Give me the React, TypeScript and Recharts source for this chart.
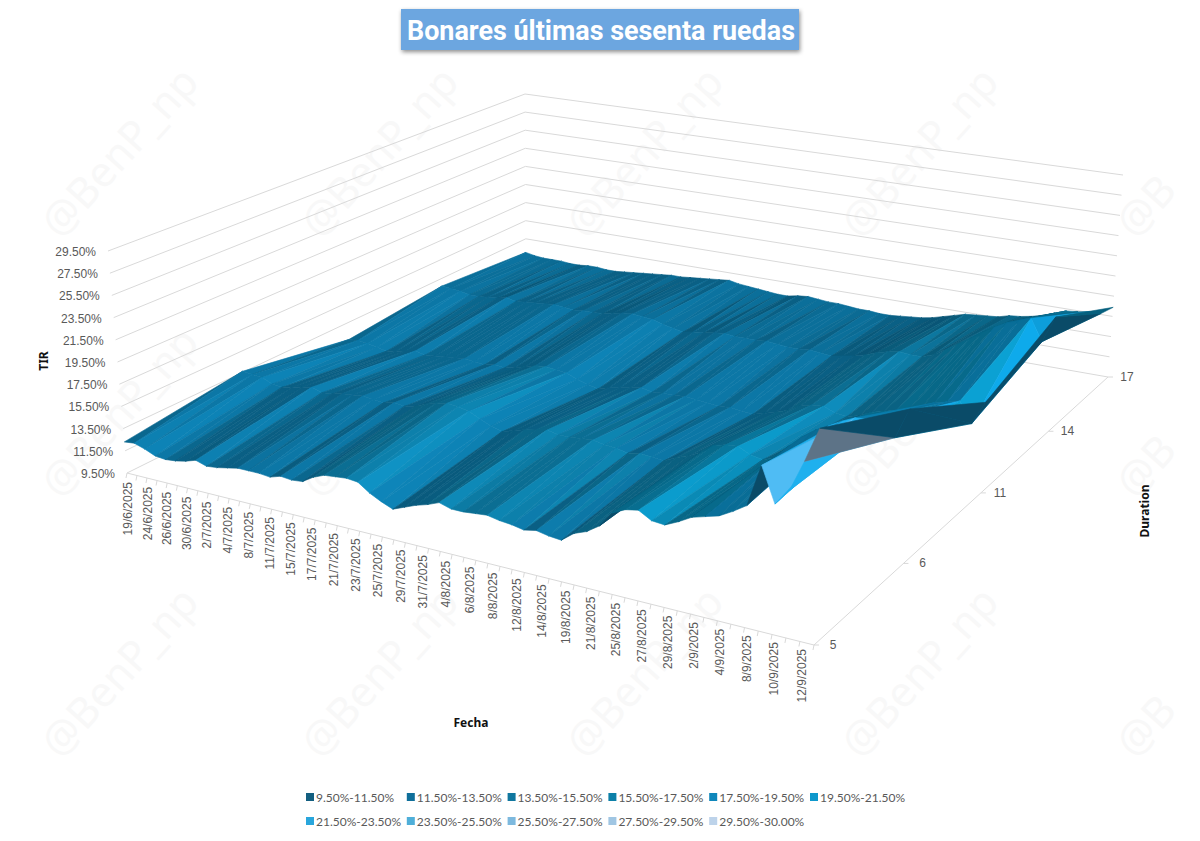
import { ScatterChart, Scatter, XAxis, YAxis } from "recharts";

const dates = ["19/6/2025","23/6/2025","24/6/2025","25/6/2025","26/6/2025","27/6/2025","30/6/2025","1/7/2025","2/7/2025","3/7/2025","4/7/2025","7/7/2025","8/7/2025","10/7/2025","11/7/2025","14/7/2025","15/7/2025","16/7/2025","17/7/2025","18/7/2025","21/7/2025","22/7/2025","23/7/2025","24/7/2025","25/7/2025","28/7/2025","29/7/2025","30/7/2025","31/7/2025","1/8/2025","4/8/2025","5/8/2025","6/8/2025","7/8/2025","8/8/2025","11/8/2025","12/8/2025","13/8/2025","14/8/2025","18/8/2025","19/8/2025","20/8/2025","21/8/2025","22/8/2025","25/8/2025","26/8/2025","27/8/2025","28/8/2025","29/8/2025","1/9/2025","2/9/2025","3/9/2025","4/9/2025","5/9/2025","8/9/2025","9/9/2025","10/9/2025","11/9/2025","12/9/2025"];
const durations = [5, 6, 11, 14, 17];

const tirD5 = [12.3,12.4,12.1,11.7,11.6,11.7,11.9,12.2,11.9,12.0,12.2,12.4,12.4,12.4,12.3,12.6,12.5,12.6,13.2,13.6,13.7,13.8,13.7,13.0,12.5,12.1,12.5,12.9,13.2,13.6,13.3,13.3,13.4,13.5,13.3,13.2,13.0,13.2,13.0,12.9,13.7,14.1,14.8,16.1,16.6,16.8,16.2,16.1,16.6,17.2,17.5,17.8,18.4,19.1,22.5,19.7,21.0,23.5,26.3];
const tirD6 = [13.6,13.5,13.4,13.0,12.9,13.1,13.3,13.5,13.2,13.3,13.5,13.6,13.7,13.6,13.5,13.7,13.6,13.8,14.2,14.5,14.7,14.6,14.4,13.9,13.5,13.2,13.5,13.8,14.0,14.2,14.0,14.0,14.1,14.2,14.0,13.9,13.7,13.9,13.8,13.7,14.2,14.6,15.1,15.9,16.2,16.3,15.8,15.6,16.0,17.2,18.2,19.0,19.6,20.2,20.7,20.8,21.0,19.7,22.3];
const tirD11 = [11.8,11.9,11.8,11.6,11.4,11.6,11.8,12.0,11.8,11.9,12.0,12.1,12.2,12.1,12.0,12.2,12.1,12.3,12.6,12.9,13.0,12.9,12.8,12.4,12.1,11.9,12.2,12.4,12.6,12.8,12.6,12.7,12.7,12.8,12.7,12.6,12.5,12.6,12.5,12.4,12.7,13.0,13.4,14.0,14.3,14.4,14.0,13.9,14.2,14.7,15.0,15.3,15.6,16.0,16.6,16.9,17.2,15.4,17.5];
const tirD14 = [12.7,12.6,12.5,12.3,12.3,12.4,12.5,12.7,12.5,12.6,12.7,12.8,12.9,12.8,12.7,12.8,12.8,12.9,13.1,13.3,13.4,13.3,13.2,12.9,12.7,12.5,12.7,12.8,13.0,13.1,13.0,13.0,13.0,13.1,13.0,12.9,12.9,13.0,12.9,12.8,13.0,13.2,13.5,13.9,14.2,14.4,14.3,14.3,14.7,15.4,16.1,16.8,17.6,18.3,18.9,19.3,19.7,17.7,20.2];
const tirD17 = [12.0,11.8,11.7,11.7,11.7,11.6,11.6,11.7,11.7,11.6,11.6,11.7,11.8,11.9,12.0,12.1,12.2,12.2,12.3,12.4,12.5,12.6,12.7,12.5,12.4,12.3,12.2,12.1,12.1,12.3,12.4,12.3,12.2,12.2,12.1,12.0,12.0,11.9,11.9,12.0,12.1,12.2,12.4,12.7,13.0,13.3,13.4,13.5,13.6,13.9,14.0,14.2,14.5,14.9,15.3,15.4,15.6,15.6,16.4];
const tirRows = [tirD5, tirD6, tirD11, tirD14, tirD17];

const tirTicks = [9.5, 11.5, 13.5, 15.5, 17.5, 19.5, 21.5, 23.5, 25.5, 27.5, 29.5];
const bandNames = ["9.50%-11.50%","11.50%-13.50%","13.50%-15.50%","15.50%-17.50%","17.50%-19.50%","19.50%-21.50%","21.50%-23.50%","23.50%-25.50%","25.50%-27.50%","27.50%-29.50%","29.50%-30.00%"];
const bandColors = ["#135f80","#0f6f9a","#10779f","#0c80a8","#0f87bb","#0e98cc","#29a6dc","#4fafd9","#7db9de","#a0c6e3","#bdd3ea"];

// the four corners of the box as seen on the page
type Pt = [number, number];
function quadMap(p0: Pt, p1: Pt, p2: Pt, p3: Pt) {
  const dx1 = p1[0] - p2[0], dx2 = p3[0] - p2[0], sx = p0[0] - p1[0] + p2[0] - p3[0];
  const dy1 = p1[1] - p2[1], dy2 = p3[1] - p2[1], sy = p0[1] - p1[1] + p2[1] - p3[1];
  const det = dx1 * dy2 - dx2 * dy1;
  const g = (sx * dy2 - dx2 * sy) / det;
  const h = (dx1 * sy - sx * dy1) / det;
  const a = p1[0] - p0[0] + g * p1[0], b = p3[0] - p0[0] + h * p3[0];
  const d = p1[1] - p0[1] + g * p1[1], e = p3[1] - p0[1] + h * p3[1];
  return (u: number, v: number): Pt => {
    const w = g * u + h * v + 1;
    return [(a * u + b * v + p0[0]) / w, (d * u + e * v + p0[1]) / w];
  };
}
const floorMap = quadMap([127, 473], [814, 645], [1108, 377], [526, 275]);
const topMap = quadMap([108, 251], [821, 387], [1123, 175], [525, 94]);

function project(i: number, r: number, tir: number): Pt {
  const u = i / (dates.length - 1), v = r / (durations.length - 1);
  const h = (tir - 9.5) / 20;
  const f = floorMap(u, v), t = topMap(u, v);
  return [f[0] + (t[0] - f[0]) * h, f[1] + (t[1] - f[1]) * h];
}

function shadeColor(hex: string, s: number) {
  const n = parseInt(hex.slice(1), 16);
  const c = [n >> 16, (n >> 8) & 255, n & 255].map((v, k) => Math.min(255, Math.round(v * s * (k === 0 ? 0.75 : 1))));
  return `rgb(${c[0]},${c[1]},${c[2]})`;
}

function facetColor(avg: number, dzdi: number, r: number) {
  const band = Math.max(0, Math.min(bandColors.length - 1, Math.floor((avg - 9.5) / 2)));
  if (dzdi > 2.7 && avg > 22) return "#5d7387";
  if (dzdi > 2.7) return "#0a4b68";
  if (r === 0 && band >= 5 && dzdi < 2.55) return dzdi < -1 ? "#4fbcf4" : "#1fb0ee";
  if (dzdi > 1) return "#0a4b68";
  // rising towards the viewer faces away from the light, falling faces it
  const lit = dzdi > 0 ? 1 - 0.22 * Math.tanh(dzdi / 0.2) : 1 + 0.22 * Math.tanh(-dzdi / 0.5);
  const depth = r >= 3 ? 0.96 : 1.03;
  return shadeColor(bandColors[band], lit * depth);
}

// back rows first, so the front of the surface covers what is behind it
const surface: any[] = [];
for (let r = durations.length - 2; r >= 0; r--) {
  for (let i = 0; i < dates.length - 1; i++) {
    const z00 = tirRows[r][i], z10 = tirRows[r][i + 1], z01 = tirRows[r + 1][i], z11 = tirRows[r + 1][i + 1];
    const p00 = project(i, r, z00), p10 = project(i + 1, r, z10), p01 = project(i, r + 1, z01), p11 = project(i + 1, r + 1, z11);
    const tris = [
      { pts: [p00, p10, p01], fill: facetColor((z00 + z10 + z01) / 3, z10 - z00, r) },
      { pts: [p10, p11, p01], fill: facetColor((z10 + z11 + z01) / 3, z11 - z01, r) },
    ];
    for (const t of tris) {
      surface.push({
        x: t.pts[0][0], y: t.pts[0][1],
        ax: t.pts[1][0] - t.pts[0][0], ay: t.pts[1][1] - t.pts[0][1],
        bx: t.pts[2][0] - t.pts[0][0], by: t.pts[2][1] - t.pts[0][1],
        fill: t.fill,
      });
    }
  }
}

const seg = (a: Pt, b: Pt) => ({ x: a[0], y: a[1], dx: b[0] - a[0], dy: b[1] - a[1] });

const gridLines: any[] = [];
tirTicks.forEach((t) => {
  const left = project(0, 0, t), back = project(0, durations.length - 1, t), right = project(dates.length - 1, durations.length - 1, t);
  gridLines.push(seg(left, back), seg(back, right));
});
const corner = project(dates.length - 1, 0, 9.5);
gridLines.push(seg(project(0, 0, 9.5), corner), seg(corner, project(dates.length - 1, durations.length - 1, 9.5)));
dates.forEach((_, i) => {
  const p = project(i, 0, 9.5);
  gridLines.push(seg(p, [p[0] - 1, p[1] + 5]));
});
durations.forEach((_, r) => {
  const p = project(dates.length - 1, r, 9.5);
  gridLines.push(seg(p, [p[0] + 5, p[1]]));
});

const dateLabels = dates.map((d, i) => ({ d, i })).filter((o) => o.i % 2 === 0).map(({ d, i }) => {
  const p = project(i, 0, 9.5);
  const u = i / (dates.length - 1);
  return { x: p[0] + 1 - 13 * u, y: p[1] + 9 - 5 * u, text: d };
});
const tirLabels = tirTicks.map((t) => {
  const p = project(0, 0, t);
  return { x: p[0] - 12, y: p[1] + 1, text: t.toFixed(2) + "%" };
});
const durationLabels = durations.map((d, r) => {
  const p = project(dates.length - 1, r, 9.5);
  return { x: p[0] + 19, y: p[1], text: String(d) };
});
const titlePoint = [{ x: 600, y: 30 }];
const axisTitles = [
  { x: 43, y: 361, text: "TIR", rotate: -90 },
  { x: 1144, y: 511, text: "Duration", rotate: -90 },
  { x: 471, y: 722, text: "Fecha", rotate: 0 },
];
const legendItems = bandNames.map((name, k) => ({ x: 310 + (k % 6) * 100.8, y: 797 + Math.floor(k / 6) * 24, name, fill: bandColors[k] }));
const watermarks: any[] = [];
[225, 485, 745].forEach((y) => [85, 345, 610, 885, 1160].forEach((x) => watermarks.push({ x, y, text: x > 1100 ? "@B" : "@BenP_np" })));

const Tri = ({ cx, cy, payload: p }: any) => (
  <polygon points={`${cx},${cy} ${cx + p.ax},${cy + p.ay} ${cx + p.bx},${cy + p.by}`} fill={p.fill} stroke={p.fill} strokeWidth={0.6} />
);
const Seg = ({ cx, cy, payload: p }: any) => (
  <line x1={cx} y1={cy} x2={cx + p.dx} y2={cy + p.dy} stroke="#d9d9d9" strokeWidth={1} />
);
const axisFont = "'Liberation Sans', Arial, sans-serif";
const DateLabel = ({ cx, cy, payload: p }: any) => (
  <text x={cx} y={cy} transform={`rotate(-90 ${cx} ${cy})`} textAnchor="end" dominantBaseline="central" fontFamily={axisFont} fontSize={12} fill="#595959">{p.text}</text>
);
const EndLabel = ({ cx, cy, payload: p }: any) => (
  <text x={cx} y={cy} textAnchor="end" dominantBaseline="central" fontFamily={axisFont} fontSize={12} fill="#595959">{p.text}</text>
);
const MidLabel = ({ cx, cy, payload: p }: any) => (
  <text x={cx} y={cy} textAnchor="middle" dominantBaseline="central" fontFamily={axisFont} fontSize={12} fill="#595959">{p.text}</text>
);
const AxisTitle = ({ cx, cy, payload: p }: any) => (
  <text x={cx} y={cy} transform={`rotate(${p.rotate} ${cx} ${cy})`} textAnchor="middle" dominantBaseline="central" fontFamily="'Noto Sans', sans-serif" fontWeight={700} fontSize={12} fill="#111111">{p.text}</text>
);
const LegendItem = ({ cx, cy, payload: p }: any) => (
  <g>
    <rect x={cx - 4} y={cy - 4} width={8} height={8} fill={p.fill} />
    <text x={cx + 6} y={cy} dominantBaseline="central" fontFamily="Lato, sans-serif" fontSize={12} fill="#595959">{p.name}</text>
  </g>
);
const Title = ({ cx, cy }: any) => (
  <g>
    <rect x={cx - 199} y={cy - 21} width={398} height={41} fill="#6ca6e0" style={{ filter: "drop-shadow(1px 2px 2px rgba(0,0,0,0.45))" }} />
    <text x={cx + 1} y={cy} textAnchor="middle" dominantBaseline="central" fontFamily="Roboto, sans-serif" fontWeight={700} fontSize={28} textLength={388} lengthAdjust="spacingAndGlyphs" fill="#ffffff">Bonares últimas sesenta ruedas</text>
  </g>
);
const Watermark = ({ cx, cy, payload: p }: any) => (
  <text x={cx - 25} y={cy + 15} transform={`rotate(-48 ${cx - 25} ${cy + 15})`} fontFamily="'Noto Sans', sans-serif" fontSize={42} fill="#f8f8f8">{p.text}</text>
);

export default function App() {
  return (
    <div style={{ position: "absolute", left: 0, top: 0, width: 1200, height: 841, background: "#ffffff" }}>
      <ScatterChart width={1200} height={841} margin={{ top: 0, right: 0, bottom: 0, left: 0 }}>
        <XAxis type="number" dataKey="x" domain={[0, 1200]} allowDataOverflow hide />
        <YAxis type="number" dataKey="y" domain={[0, 841]} allowDataOverflow reversed hide />
        <Scatter data={watermarks} shape={Watermark} isAnimationActive={false} />
        <Scatter data={gridLines} shape={Seg} isAnimationActive={false} />
        <Scatter data={surface} shape={Tri} isAnimationActive={false} />
        <Scatter data={dateLabels} shape={DateLabel} isAnimationActive={false} />
        <Scatter data={tirLabels} shape={EndLabel} isAnimationActive={false} />
        <Scatter data={durationLabels} shape={MidLabel} isAnimationActive={false} />
        <Scatter data={axisTitles} shape={AxisTitle} isAnimationActive={false} />
        <Scatter data={legendItems} shape={LegendItem} isAnimationActive={false} />
        <Scatter data={titlePoint} shape={Title} isAnimationActive={false} />
      </ScatterChart>
    </div>
  );
}
